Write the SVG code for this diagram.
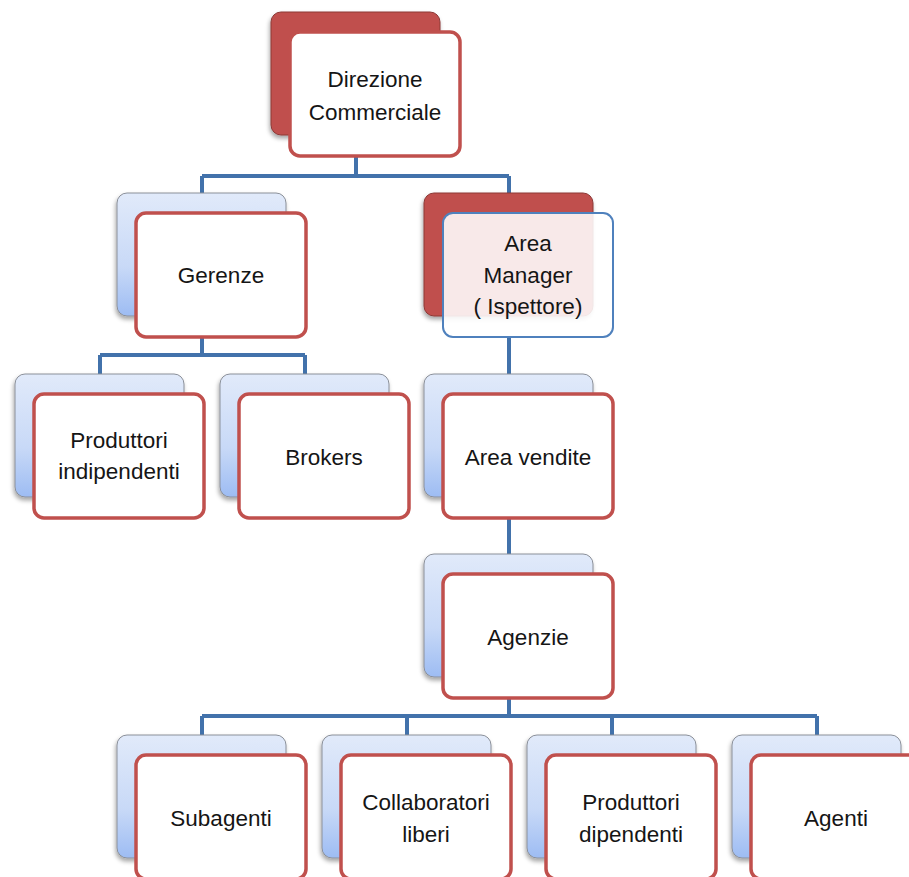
<svg xmlns="http://www.w3.org/2000/svg" width="909" height="877" viewBox="0 0 909 877">
  <style>
    .back { fill: url(#blueGrad); stroke: #8a8f99; stroke-width: 1; filter: url(#shadow); }
    .back.red { fill: #c0504d; stroke: #8c3836; }
    .front { fill: #ffffff; stroke: #c0504d; stroke-width: 3.5; }
    .front.alt { fill: #ffffff; fill-opacity: 0.88; stroke: #4f81bd; stroke-width: 2; }
    .conn { fill: none; stroke: #4272ab; stroke-width: 4; }
    text { font-family: "Liberation Sans", Arial, sans-serif; font-size: 22.5px; fill: #151515; text-anchor: middle; }
  </style>
  <defs>
    <linearGradient id="blueGrad" x1="0" y1="0" x2="0" y2="1">
      <stop offset="0" stop-color="#e1eafa"/>
      <stop offset="0.6" stop-color="#c8d9f7"/>
      <stop offset="1" stop-color="#9dbcf3"/>
    </linearGradient>
    <filter id="shadow" x="-20%" y="-20%" width="140%" height="140%">
      <feDropShadow dx="-1" dy="3" stdDeviation="2" flood-color="#000" flood-opacity="0.35"/>
    </filter>
  </defs>

  <rect width="909" height="877" fill="#ffffff"/>

  <!-- connectors -->
  <g id="connectors" class="conn">
    <path d="M356 157 V176 M202 176 H509 M202 176 V193 M509 176 V193"/>
    <path d="M202 337 V355 M100 355 H305 M100 355 V374 M305 355 V374"/>
    <path d="M509 338 V374"/>
    <path d="M509 518 V554"/>
    <path d="M509 698 V716 M202 716 H817 M202 716 V735 M407 716 V735 M612 716 V735 M817 716 V735"/>
  </g>

  <!-- level 0 -->
  <g id="direzione-commerciale">
    <rect class="back red" x="271" y="12" width="169" height="123" rx="10"/>
    <rect class="front" x="290" y="32" width="170" height="124" rx="10"/>
    <text x="375" y="87">Direzione<tspan x="375" dy="33">Commerciale</tspan></text>
  </g>

  <!-- level 1 -->
  <g id="gerenze">
    <rect class="back" x="117" y="193" width="169" height="123" rx="10"/>
    <rect class="front" x="136" y="213" width="170" height="124" rx="10"/>
    <text x="221" y="283">Gerenze</text>
  </g>
  <g id="area-manager">
    <rect class="back red" x="424" y="193" width="169" height="123" rx="10"/>
    <rect class="front alt" x="443" y="213" width="170" height="124" rx="10"/>
    <text x="528" y="251">Area<tspan x="528" dy="32">Manager</tspan><tspan x="528" dy="31">( Ispettore)</tspan></text>
  </g>

  <!-- level 2 -->
  <g id="produttori-indipendenti">
    <rect class="back" x="15" y="374" width="169" height="123" rx="10"/>
    <rect class="front" x="34" y="394" width="170" height="124" rx="10"/>
    <text x="119" y="448">Produttori<tspan x="119" dy="31">indipendenti</tspan></text>
  </g>
  <g id="brokers">
    <rect class="back" x="220" y="374" width="169" height="123" rx="10"/>
    <rect class="front" x="239" y="394" width="170" height="124" rx="10"/>
    <text x="324" y="465">Brokers</text>
  </g>
  <g id="area-vendite">
    <rect class="back" x="424" y="374" width="169" height="123" rx="10"/>
    <rect class="front" x="443" y="394" width="170" height="124" rx="10"/>
    <text x="528" y="465">Area vendite</text>
  </g>

  <!-- level 3 -->
  <g id="agenzie">
    <rect class="back" x="424" y="554" width="169" height="123" rx="10"/>
    <rect class="front" x="443" y="574" width="170" height="124" rx="10"/>
    <text x="528" y="645">Agenzie</text>
  </g>

  <!-- level 4 -->
  <g id="subagenti">
    <rect class="back" x="117" y="735" width="169" height="123" rx="10"/>
    <rect class="front" x="136" y="755" width="170" height="124" rx="10"/>
    <text x="221" y="826">Subagenti</text>
  </g>
  <g id="collaboratori-liberi">
    <rect class="back" x="322" y="735" width="169" height="123" rx="10"/>
    <rect class="front" x="341" y="755" width="170" height="124" rx="10"/>
    <text x="426" y="810">Collaboratori<tspan x="426" dy="32">liberi</tspan></text>
  </g>
  <g id="produttori-dipendenti">
    <rect class="back" x="527" y="735" width="169" height="123" rx="10"/>
    <rect class="front" x="546" y="755" width="170" height="124" rx="10"/>
    <text x="631" y="810">Produttori<tspan x="631" dy="32">dipendenti</tspan></text>
  </g>
  <g id="agenti">
    <rect class="back" x="732" y="735" width="169" height="123" rx="10"/>
    <rect class="front" x="751" y="755" width="170" height="124" rx="10"/>
    <text x="836" y="826">Agenti</text>
  </g>
</svg>
